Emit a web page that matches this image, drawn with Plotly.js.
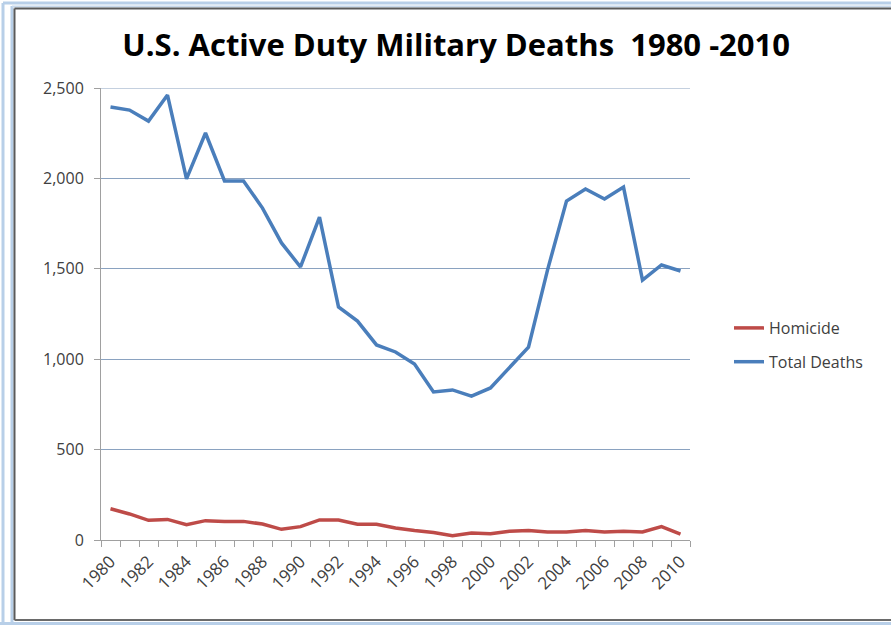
<!DOCTYPE html>
<html>
<head>
<meta charset="utf-8">
<script src="https://cdn.plot.ly/plotly-3.0.1.min.js"></script>
<style>
html,body{margin:0;padding:0;background:#fff;}
#chart{width:891px;height:625px;}
</style>
</head>
<body>
<div id="chart"></div>
<script>
const years = [1980,1981,1982,1983,1984,1985,1986,1987,1988,1989,1990,1991,1992,1993,1994,1995,1996,1997,1998,1999,2000,2001,2002,2003,2004,2005,2006,2007,2008,2009,2010];
const homicide = [173,144,109,114,85,107,103,103,88,59,74,111,111,87,87,66,52,41,24,39,35,48,53,44,44,52,44,48,44,74,33];
const totalDeaths = [2395,2378,2317,2461,1997,2251,1986,1986,1836,1643,1510,1786,1289,1211,1079,1040,973,819,830,796,841,957,1067,1493,1875,1941,1886,1952,1438,1521,1488];
const tickLabels = ['1980','1982','1984','1986','1988','1990','1992','1994','1996','1998','2000','2002','2004','2006','2008','2010'];
const yTicks = [0,500,1000,1500,2000,2500];

const font = "'Open Sans', 'Noto Sans', sans-serif";

const traces = [
  {x: years, y: homicide, name: 'Homicide', type: 'scatter', mode: 'lines', legendgroup: 'a',
   line: {color: '#be4b48', width: 3.5}},
  {x: years, y: totalDeaths, name: 'Total Deaths', type: 'scatter', mode: 'lines', legendgroup: 'b',
   line: {color: '#4a7ebb', width: 3.5}}
];

const W = 891, H = 625, L = 101, R = 201, T = 88, B = 85;
const pw = W - L - R, ph = H - T - B;
function px(x){ return (x - L) / pw; }
function py(y){ return (H - B - y) / ph; }

const shapes = [
  // top gridline at the edge of the y range
  {type:'line', xref:'paper', yref:'y', x0:0, x1:1, y0:yTicks[yTicks.length-1], y1:yTicks[yTicks.length-1], line:{color:'#8aa2c0', width:1}, layer:'below'},
  // light blue outer frame
  {type:'line', xref:'paper', yref:'paper', x0:px(3), x1:px(3), y0:py(3), y1:py(623), line:{color:'#b8cfe8', width:3}},
  {type:'line', xref:'paper', yref:'paper', x0:px(3), x1:px(900), y0:py(3), y1:py(3), line:{color:'#b8cfe8', width:3}},
  {type:'line', xref:'paper', yref:'paper', x0:px(12), x1:px(12), y0:py(6), y1:py(623), line:{color:'#b8cfe8', width:3}},
  {type:'line', xref:'paper', yref:'paper', x0:px(12), x1:px(900), y0:py(6.5), y1:py(6.5), line:{color:'#c8d9ec', width:2}},
  {type:'line', xref:'paper', yref:'paper', x0:px(0), x1:px(900), y0:py(623.5), y1:py(623.5), line:{color:'#b8cfe8', width:3}},
  // dark inner frame
  {type:'line', xref:'paper', yref:'paper', x0:px(14.5), x1:px(14.5), y0:py(8.5), y1:py(620), line:{color:'#5a5a5a', width:2}},
  {type:'line', xref:'paper', yref:'paper', x0:px(14.5), x1:px(900), y0:py(8.5), y1:py(8.5), line:{color:'#5a5a5a', width:2}},
  {type:'line', xref:'paper', yref:'paper', x0:px(14.5), x1:px(900), y0:py(620), y1:py(620), line:{color:'#6a6a6a', width:2}}
];

const layout = {
  width: W, height: H,
  margin: {l: L, r: R, t: T, b: B, pad: 0},
  paper_bgcolor: '#ffffff', plot_bgcolor: '#ffffff',
  font: {family: font, color: '#404040', size: 16},
  title: {text: '<b>U.S. Active Duty Military Deaths  1980 -2010</b>', x: 0.512, xanchor: 'center', y: 0.927, yanchor: 'middle',
          font: {family: font, size: 31, color: '#000000'}},
  showlegend: true,
  legend: {x: px(729), y: py(311), xanchor: 'left', yanchor: 'top', font: {family: font, size: 16, color: '#404040'},
           traceorder: 'grouped', tracegroupgap: 10, bgcolor: 'rgba(0,0,0,0)'},
  xaxis: {
    type: 'linear', range: [1979.5, 2010.5], fixedrange: true,
    tickmode: 'array', tickvals: tickLabels.map(Number), ticktext: tickLabels,
    ticks: '', tickangle: -45, showgrid: false, zeroline: false,
    showline: true, linecolor: '#a0a0a0', linewidth: 1,
    tickfont: {family: font, size: 17, color: '#404040'}, ticklabelstandoff: 4,
    minor: {tick0: 1979.5, dtick: 1, ticks: 'outside', ticklen: 6, tickcolor: '#a0a0a0', tickwidth: 1, showgrid: false}
  },
  yaxis: {
    range: [0, 2500], fixedrange: true,
    tickmode: 'array', tickvals: yTicks, ticktext: yTicks.map(v => v.toLocaleString('en-US')),
    ticks: 'outside', ticklen: 6, tickcolor: '#a0a0a0',
    showgrid: true, gridcolor: '#8aa2c0', gridwidth: 1, zeroline: false,
    showline: true, linecolor: '#a0a0a0', linewidth: 1,
    tickfont: {family: font, size: 16, color: '#404040'}, ticklabelstandoff: 7
  },
  shapes: shapes
};

Plotly.newPlot('chart', traces, layout, {staticPlot: true, displayModeBar: false});
</script>
</body>
</html>
